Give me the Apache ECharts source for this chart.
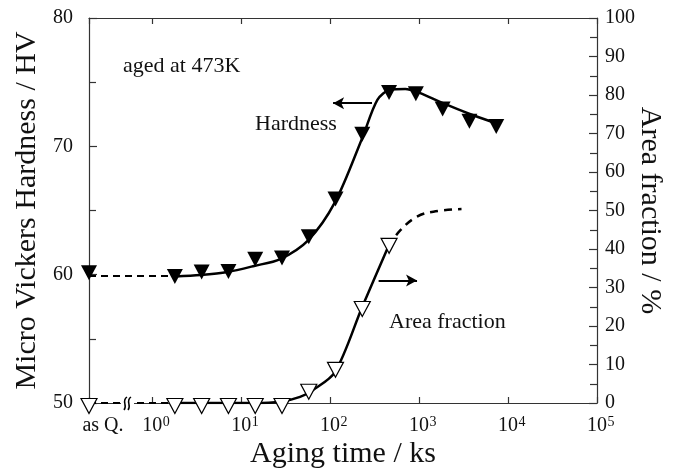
<!DOCTYPE html>
<html><head><meta charset="utf-8">
<script src="https://cdn.jsdelivr.net/npm/echarts@6/dist/echarts.min.js"></script>
<style>html,body{margin:0;padding:0;background:#fff}#c{width:677px;height:476px}</style>
</head><body><div id="c"></div>
<script>
// ---- data ----
const AS_Q = 0.195;          // position used for "as Q." (as quenched)
const X_MAX = 100000;
const agingTimes = [1.8, 3.6, 7.2, 14.4, 28.8, 57.6, 115, 230, 460, 920, 1840, 3680, 7370];
const hardnessAsQ = 60.15;
const hardness = [59.85, 60.2, 60.25, 61.2, 61.3, 62.95, 65.9, 70.95, 74.2, 74.1, 72.9, 71.95, 71.55];
const areaAsQ = 0;
const areaTimes = [1.8, 3.6, 7.2, 14.4, 28.8, 57.6, 115, 230, 460];
const areaFraction = [0, 0, 0, 0, 0, 3.7, 9.4, 25.2, 41.6];
// fitted curves
const hardCurveT = [1.8, 3.5, 7, 14, 27.5, 57, 114, 230, 340, 476, 700, 933, 1830, 3590, 6670];
const hardCurveV = [59.86, 59.98, 60.21, 60.68, 61.22, 62.7, 65.67, 70.65, 73.62, 74.42, 74.47, 74.26, 73.38, 72.56, 71.9];
const hardAsQLineV = 59.9;
const areaCurveT = [1.8, 14, 28.2, 46, 64.5, 114, 230, 450];
const areaCurveV = [0, 0, 0.4, 1.6, 3.4, 8.1, 25.0, 40.6];
const areaExtT = [450, 617, 949, 1450, 3000];
const areaExtV = [40.6, 44.9, 48.4, 49.7, 50.4];
const hardArrow = {from: 296, to: 108, v: 73.36};
const areaArrow = {from: 351, to: 949, v: 31.8};

const FONT = "'Liberation Serif','Times New Roman',serif";
const zip = (a, b) => a.map((t, i) => [t, b[i]]);

const chart = echarts.init(document.getElementById('c'), null, {renderer: 'canvas'});

function xLabel(v) {
  if (v < 0.5) return '{q|as Q.}';
  const e = Math.round(Math.log10(v));
  return '{p| }{b|10}{s|' + e + '}';
}
const xRich = {
  q: {fontFamily: FONT, fontSize: 20, color: '#111', padding: [0, 0, 0, 28], lineHeight: 22},
  p: {width: 8, fontSize: 14},
  b: {fontFamily: FONT, fontSize: 20, color: '#111', lineHeight: 22},
  s: {fontFamily: FONT, fontSize: 14, color: '#111', verticalAlign: 'top', lineHeight: 14, width: 8}
};
const axisCol = '#333';

function xAx(pos, showLabel) {
  return {
    type: 'log', logBase: 10, min: AS_Q, max: X_MAX, position: pos,
    axisLine: {show: true, lineStyle: {color: axisCol, width: 1.2}},
    axisTick: {show: true, inside: true, length: 6, lineStyle: {color: axisCol, width: 1.2}},
    splitLine: {show: false}, minorTick: {show: false},
    axisLabel: {show: showLabel, formatter: xLabel, rich: xRich, margin: 12},
    name: showLabel ? 'Aging time / ks' : '', nameLocation: 'middle', nameGap: 36,
    nameMoveOverlap: false,
    nameTextStyle: {fontFamily: FONT, fontSize: 30, color: '#111'}
  };
}
function yAx(pos, min, max, interval, name, gap, rot, margin) {
  return {
    type: 'value', position: pos, min: min, max: max, interval: interval,
    axisLine: {show: true, lineStyle: {color: axisCol, width: 1.2}},
    axisTick: {show: true, inside: true, length: 8, lineStyle: {color: axisCol, width: 1.2}},
    minorTick: {show: true, splitNumber: 2, length: 7, lineStyle: {color: axisCol, width: 1.2}},
    splitLine: {show: false}, minorSplitLine: {show: false},
    axisLabel: {fontFamily: FONT, fontSize: 20, color: '#111', margin: margin},
    name: name, nameLocation: 'middle', nameGap: gap, nameRotate: rot,
    nameMoveOverlap: false,
    nameTextStyle: {fontFamily: FONT, fontSize: 30, color: '#111'}
  };
}

const option = {
  animation: false,
  backgroundColor: '#fff',
  grid: {left: 89, right: 80, top: 18, bottom: 73, containLabel: false, outerBoundsMode: 'none'},
  xAxis: [xAx('bottom', true), xAx('top', false)],
  yAxis: [
    yAx('left', 50, 80, 10, 'Micro Vickers Hardness / HV', 47, 90, 16),
    yAx('right', 0, 100, 10, 'Area fraction / %', 38, -90, 8)
  ],
  series: [
    {type: 'line', xAxisIndex: 0, yAxisIndex: 0, symbol: 'none',
     data: [[AS_Q, hardAsQLineV], [agingTimes[0], hardAsQLineV]],
     lineStyle: {color: '#000', width: 2, type: [7, 5]}, z: 3},
    {type: 'line', xAxisIndex: 0, yAxisIndex: 0, symbol: 'none', smooth: 0.3,
     data: zip(hardCurveT, hardCurveV),
     lineStyle: {color: '#000', width: 2.5}, z: 3,
     markLine: {silent: true, symbol: ['none', 'arrow'], symbolSize: [9, 11],
       label: {show: false}, lineStyle: {color: '#000', width: 2, type: 'solid'},
       data: [[{coord: [hardArrow.from, hardArrow.v]}, {coord: [hardArrow.to, hardArrow.v]}]]}},
    {type: 'scatter', xAxisIndex: 0, yAxisIndex: 0, symbol: 'triangle', symbolRotate: 180,
     symbolSize: [16, 15], itemStyle: {color: '#000', opacity: 1}, z: 5,
     data: [[AS_Q, hardnessAsQ]].concat(zip(agingTimes, hardness))},
    {type: 'line', xAxisIndex: 0, yAxisIndex: 1, symbol: 'none',
     data: [[AS_Q, areaAsQ], [areaTimes[0], areaAsQ]],
     lineStyle: {color: '#000', width: 2, type: [7, 5]}, z: 3},
    {type: 'line', xAxisIndex: 0, yAxisIndex: 1, symbol: 'none', smooth: 0.3,
     data: zip(areaCurveT, areaCurveV),
     lineStyle: {color: '#000', width: 2.5}, z: 3,
     markLine: {silent: true, symbol: ['none', 'arrow'], symbolSize: [9, 11],
       label: {show: false}, lineStyle: {color: '#000', width: 2, type: 'solid'},
       data: [[{coord: [areaArrow.from, areaArrow.v]}, {coord: [areaArrow.to, areaArrow.v]}]]}},
    {type: 'line', xAxisIndex: 0, yAxisIndex: 1, symbol: 'none', smooth: 0.4,
     data: zip(areaExtT, areaExtV),
     lineStyle: {color: '#000', width: 2.5, type: [8, 6]}, z: 3},
    {type: 'scatter', xAxisIndex: 0, yAxisIndex: 1, symbol: 'triangle', symbolRotate: 180,
     symbolSize: [16, 15], symbolOffset: [0, 3],
     itemStyle: {color: '#fff', borderColor: '#000', borderWidth: 1.2, opacity: 1}, z: 5,
     data: [[AS_Q, areaAsQ]].concat(zip(areaTimes, areaFraction))}
  ],
  graphic: [
    {type: 'text', z: 100, style: {x: 123, y: 66, text: 'aged at 473K', font: '22px ' + FONT, fill: '#111', verticalAlign: 'middle'}},
    {type: 'text', z: 100, style: {x: 255, y: 124, text: 'Hardness', font: '22px ' + FONT, fill: '#111', verticalAlign: 'middle'}},
    {type: 'text', z: 100, style: {x: 389, y: 322, text: 'Area fraction', font: '22px ' + FONT, fill: '#111', verticalAlign: 'middle'}},
    {type: 'rect', z: 99, shape: {x: 121, y: 399, width: 13, height: 8}, style: {fill: '#fff'}},
    {type: 'bezierCurve', z: 100, shape: {x1: 124, y1: 410, cpx1: 128, cpy1: 405, cpx2: 121, cpy2: 401, x2: 127, y2: 397}, style: {stroke: '#000', lineWidth: 1.5, fill: null}},
    {type: 'bezierCurve', z: 100, shape: {x1: 128, y1: 410, cpx1: 132, cpy1: 405, cpx2: 125, cpy2: 401, x2: 131, y2: 397}, style: {stroke: '#000', lineWidth: 1.5, fill: null}}
  ]
};
chart.setOption(option);
</script>
</body></html>
